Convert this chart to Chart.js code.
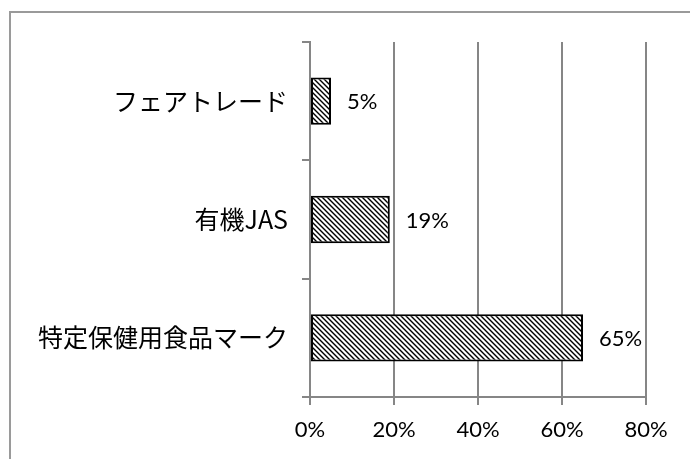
<!DOCTYPE html>
<html lang="ja">
<head>
<meta charset="UTF-8">
<title>マーク認知度</title>
<script src="https://cdn.jsdelivr.net/npm/chart.js@4/dist/chart.umd.min.js"></script>
<style>
    body { margin: 0; background: #fff; }
    .wrap { position: relative; width: 690px; height: 459px; overflow: hidden; }
    .frame {
        position: absolute; left: 9px; top: 11px; width: 700px; height: 470px;
        border: 2px solid #9a9a9a; box-sizing: border-box;
    }
    canvas { position: absolute; left: 0; top: 0; }
</style>
</head>
<body>
<div class="wrap">
    <div class="frame"></div>
    <canvas id="chart" width="690" height="459"></canvas>
</div>
<script>
// データ
const categories = ['フェアトレード', '有機JAS', '特定保健用食品マーク'];
const values = [5, 19, 65];
const xTicks = [0, 20, 40, 60, 80];

const gray = '#868686';
const numFont = 'Lato, "Noto Sans", sans-serif';

// 斜線パターン
function makeHatch() {
    const c = document.createElement('canvas');
    c.width = 5; c.height = 5;
    const g = c.getContext('2d');
    g.fillStyle = '#fff';
    g.fillRect(0, 0, 5, 5);
    g.strokeStyle = '#000';
    g.lineWidth = 1.4;
    g.beginPath();
    g.moveTo(-1, -1); g.lineTo(6, 6);
    g.moveTo(-1, 4); g.lineTo(1, 6);
    g.moveTo(4, -1); g.lineTo(6, 1);
    g.stroke();
    return g.createPattern(c, 'repeat');
}

const ctx = document.getElementById('chart').getContext('2d');

// 値ラベル
const valueLabels = {
    id: 'valueLabels',
    afterDatasetsDraw(chart) {
        const c = chart.ctx;
        const meta = chart.getDatasetMeta(0);
        c.save();
        c.font = '22px ' + numFont;
        c.fillStyle = '#000';
        c.textAlign = 'left';
        c.textBaseline = 'middle';
        meta.data.forEach((bar, i) => {
            c.fillText(values[i] + '%', bar.x + 16, bar.y + 1);
        });
        c.restore();
    }
};

new Chart(ctx, {
    type: 'bar',
    data: {
        labels: categories,
        datasets: [{
            data: values,
            backgroundColor: makeHatch(),
            borderColor: '#000',
            borderWidth: 2,
            borderSkipped: false,
            categoryPercentage: 1,
            barPercentage: 0.4
        }]
    },
    options: {
        indexAxis: 'y',
        responsive: false,
        animation: false,
        layout: { padding: { left: 0, right: 44, top: 42, bottom: 0 } },
        plugins: { legend: { display: false }, tooltip: { enabled: false } },
        scales: {
            x: {
                min: 0,
                max: 80,
                afterBuildTicks(scale) {
                    scale.ticks = xTicks.map(v => ({ value: v }));
                },
                afterFit(scale) { scale.height = 62; },
                grid: { color: gray, lineWidth: 2, tickLength: 8, tickColor: gray },
                border: { color: gray, width: 2 },
                ticks: {
                    padding: 12,
                    color: '#000',
                    font: { family: numFont, size: 22 },
                    callback: v => v + '%'
                }
            },
            y: {
                afterFit(scale) { scale.width = 310; },
                grid: { drawOnChartArea: false, offset: true, color: gray, lineWidth: 2, tickLength: 8 },
                border: { color: gray, width: 2 },
                ticks: {
                    padding: 14,
                    color: '#000',
                    font: { family: '"Noto Sans CJK JP", sans-serif', size: 25 }
                }
            }
        }
    },
    plugins: [valueLabels]
});
</script>
</body>
</html>
